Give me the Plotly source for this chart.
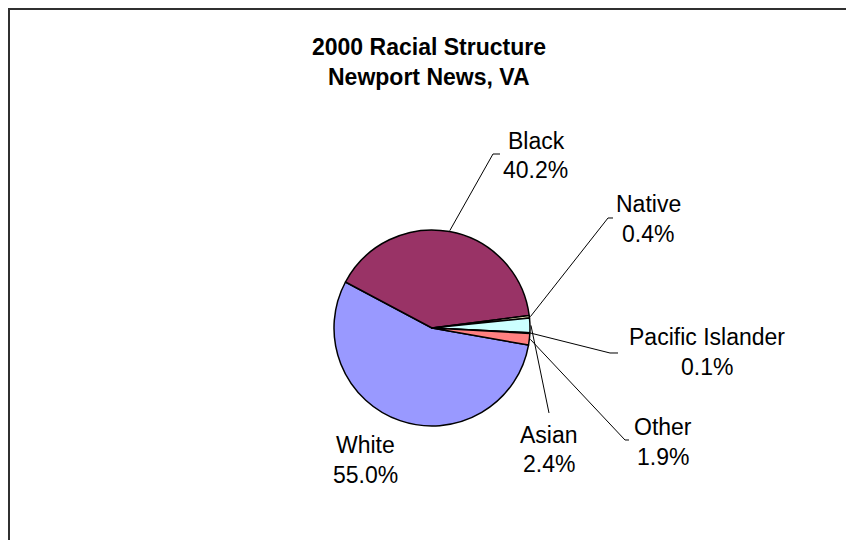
import math
import plotly.graph_objects as go

# 2000 racial structure of Newport News, VA (percent of population)
groups = ["White", "Black", "Native", "Asian", "Pacific Islander", "Other"]
shares = [55.0, 40.2, 0.4, 2.4, 0.1, 1.9]
colors = ["#9999FF", "#993366", "#FFFFCC", "#CCFFFF", "#660066", "#FF8080"]

W, H = 846, 540
CX, CY, R = 432, 328, 98          # pie centre and radius in pixels
ROTATION = 100                     # compass angle where the first slice starts

FONT = "Liberation Sans, Arial, sans-serif"


def px(x, y):
    """Pixel position -> paper coordinates."""
    return x / W, 1 - y / H


# label placement: (name line centre, percent line centre, leader path after the slice edge)
label_layout = {
    "White": ((365, 445), (365, 475), None),
    "Black": ((536, 141), (535, 170), [(493, 154), (500, 154)]),
    "Native": ((648, 204), (648, 234), [(608, 218), (613, 218)]),
    "Asian": ((549, 435), (549, 464), [(549, 413)]),
    "Pacific Islander": ((707, 337), (707, 367), [(610, 353), (618, 353)]),
    "Other": ((663, 427), (663, 457), [(625, 440), (629, 440)]),
}

fig = go.Figure()

x0, y_top = px(CX - R, CY - R)
x1, y_bot = px(CX + R, CY + R)
fig.add_trace(go.Pie(
    labels=groups,
    values=shares,
    sort=False,
    direction="clockwise",
    rotation=ROTATION,
    textinfo="none",
    hoverinfo="label+percent",
    marker=dict(colors=colors, line=dict(color="#000000", width=1.5)),
    domain=dict(x=[x0, x1], y=[y_bot, y_top]),
    showlegend=False,
))

annotations = []
shapes = []

# chart-area frame
fx, fy = px(9, 9)
shapes.append(dict(type="rect", xref="paper", yref="paper",
                   x0=fx, y0=fy, x1=1.02, y1=-0.02,
                   line=dict(color="#303030", width=2), fillcolor="rgba(0,0,0,0)"))

# title
for text, yy in (("2000 Racial Structure", 47), ("Newport News, VA", 77)):
    ax, ay = px(429, yy)
    annotations.append(dict(text=f"<b>{text}</b>", x=ax, y=ay, xref="paper", yref="paper",
                            xanchor="center", yanchor="middle", showarrow=False,
                            font=dict(family=FONT, size=23, color="#000000")))

# data labels and leader lines, anchored at each slice's mid-angle
total = sum(shares)
start = ROTATION
for name, val in zip(groups, shares):
    sweep = 360 * val / total
    mid = start + sweep / 2
    start += sweep
    (nx, ny), (vx, vy), path = label_layout[name]
    for text, (tx, ty) in ((name, (nx, ny)), (f"{val:.1f}%", (vx, vy))):
        ax, ay = px(tx, ty)
        annotations.append(dict(text=text, x=ax, y=ay, xref="paper", yref="paper",
                                xanchor="center", yanchor="middle", showarrow=False,
                                font=dict(family=FONT, size=23, color="#000000")))
    if path:
        a = math.radians(mid)
        sx = CX + (R + 1) * math.sin(a)
        sy = CY - (R + 1) * math.cos(a)
        pts = [(sx, sy)] + path
        d = "M " + " L ".join(f"{px(p[0], p[1])[0]:.5f},{px(p[0], p[1])[1]:.5f}" for p in pts)
        shapes.append(dict(type="path", xref="paper", yref="paper", path=d,
                           line=dict(color="#000000", width=1)))

fig.update_layout(
    width=W, height=H,
    margin=dict(l=0, r=0, t=0, b=0),
    paper_bgcolor="#FFFFFF",
    plot_bgcolor="#FFFFFF",
    annotations=annotations,
    shapes=shapes,
)

fig.write_html("out.html")
